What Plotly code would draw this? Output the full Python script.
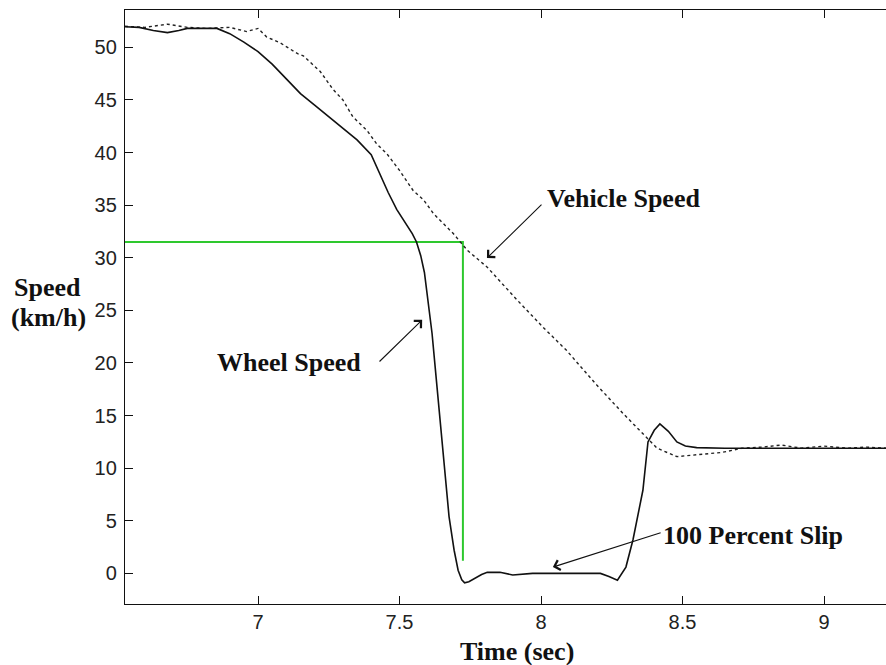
import plotly.graph_objects as go

# ---------------- data ----------------
wheel_time = [6.53, 6.58, 6.63, 6.68, 6.72, 6.75, 6.80, 6.855, 6.90, 6.95, 7.00, 7.05,
              7.10, 7.15, 7.20, 7.25, 7.30, 7.35, 7.40, 7.43, 7.46, 7.49, 7.52,
              7.545, 7.56, 7.575, 7.588, 7.60, 7.615, 7.626, 7.637, 7.654, 7.664,
              7.675, 7.693, 7.707, 7.72, 7.73, 7.745, 7.767, 7.79, 7.81, 7.855, 7.90,
              7.97, 8.05, 8.12, 8.21, 8.24, 8.27, 8.30, 8.325, 8.36, 8.378, 8.40, 8.42,
              8.45, 8.48, 8.51, 8.55, 8.65, 8.80, 9.00, 9.22]
wheel_speed = [51.96, 51.9, 51.6, 51.4, 51.6, 51.8, 51.8, 51.8, 51.3, 50.5, 49.6, 48.4,
               47.0, 45.6, 44.5, 43.4, 42.3, 41.2, 39.8, 38.0, 36.2, 34.6, 33.3,
               32.3, 31.5, 30.2, 28.6, 26.0, 22.8, 19.6, 16.5, 11.7, 8.6,
               5.4, 2.2, 0.3, -0.6, -0.9, -0.8, -0.45, -0.1, 0.1, 0.1, -0.15,
               0.0, 0.0, 0.0, 0.0, -0.3, -0.65, 0.6, 3.2, 7.9, 12.5, 13.6, 14.2,
               13.5, 12.5, 12.1, 11.95, 11.9, 11.9, 11.9, 11.9]

vehicle_time = [6.53, 6.60, 6.68, 6.75, 6.82, 6.90, 6.96, 7.00, 7.03, 7.08, 7.14, 7.16, 7.22,
                7.265, 7.30, 7.335, 7.385, 7.42, 7.455, 7.50, 7.548, 7.585, 7.62, 7.69,
                7.74, 7.81, 7.915, 8.007, 8.09, 8.197, 8.29, 8.357, 8.41, 8.48, 8.57,
                8.64, 8.71, 8.78, 8.85, 8.92, 9.00, 9.08, 9.15, 9.22]
vehicle_speed = [52.0, 51.9, 52.2, 51.9, 51.8, 51.9, 51.5, 51.8, 51.0, 50.4, 49.4, 49.2, 47.7,
                 46.0, 45.0, 43.4, 42.1, 40.8, 39.9, 38.3, 36.4, 35.5, 34.2, 32.3,
                 30.7, 29.1, 26.0, 23.4, 21.2, 17.9, 15.2, 13.4, 11.9, 11.1, 11.35,
                 11.5, 11.9, 12.0, 12.2, 11.9, 12.1, 11.9, 12.0, 11.9]

marker_time = [6.53, 7.724, 7.724]
marker_speed = [31.5, 31.5, 1.2]

x_ticks = [7, 7.5, 8, 8.5, 9]
x_tick_labels = ["7", "7.5", "8", "8.5", "9"]
y_ticks = [0, 5, 10, 15, 20, 25, 30, 35, 40, 45, 50]
y_tick_labels = [str(v) for v in y_ticks]

# ---------------- figure ----------------
fig = go.Figure()
fig.add_trace(go.Scatter(x=marker_time, y=marker_speed, mode="lines",
                         line=dict(color="#2ec82e", width=2), hoverinfo="skip"))
fig.add_trace(go.Scatter(x=vehicle_time, y=vehicle_speed, mode="lines",
                         line=dict(color="#222222", width=1.4, dash="3px,3px")))
fig.add_trace(go.Scatter(x=wheel_time, y=wheel_speed, mode="lines",
                         line=dict(color="#111111", width=1.6)))

serif = dict(family="Liberation Serif", size=26, color="#111111", weight="bold")

def label(text, x, y, anchor="left"):
    fig.add_annotation(x=x, y=y, xref="x", yref="y", text=text, showarrow=False,
                       xanchor=anchor, yanchor="middle", font=serif)

def arrow(hx, hy, tx, ty):
    fig.add_annotation(x=hx, y=hy, ax=tx, ay=ty, xref="x", yref="y", axref="x", ayref="y",
                       text="", showarrow=True, arrowhead=4, arrowsize=1.8,
                       arrowwidth=1.1, arrowcolor="#111111")

label("Vehicle Speed", 8.015, 35.6)
arrow(7.809, 29.97, 8.007, 35.2)
label("Wheel Speed", 6.848, 20.0)
arrow(7.58, 24.1, 7.424, 20.0)
label("100 Percent Slip", 8.425, 3.6)
arrow(8.042, 0.6, 8.428, 3.9)

fig.add_annotation(x=-0.148, y=0.532, xref="paper", yref="paper", text="Speed",
                   showarrow=False, xanchor="left", yanchor="middle", font=serif)
fig.add_annotation(x=-0.153, y=0.483, xref="paper", yref="paper", text="(km/h)",
                   showarrow=False, xanchor="left", yanchor="middle", font=serif)
fig.add_annotation(x=0.515, y=-0.08, xref="paper", yref="paper", text="Time (sec)",
                   showarrow=False, xanchor="center", yanchor="middle", font=serif)

tickfont = dict(family="Liberation Sans", size=20, color="#222222")
fig.update_layout(
    width=886, height=665,
    margin=dict(l=125, r=0, t=10, b=61),
    paper_bgcolor="white", plot_bgcolor="white",
    showlegend=False,
    xaxis=dict(range=[6.530, 9.219], tickvals=x_ticks, ticktext=x_tick_labels,
               ticks="inside", ticklen=8, tickwidth=1.3, tickcolor="#111111",
               showline=True, linecolor="#111111", linewidth=1.3, mirror="ticks",
               showgrid=False, zeroline=False, tickfont=tickfont),
    yaxis=dict(range=[-2.91, 53.55], tickvals=y_ticks, ticktext=y_tick_labels,
               ticks="inside", ticklen=8, tickwidth=1.3, tickcolor="#111111",
               showline=True, linecolor="#111111", linewidth=1.3, mirror=False,
               showgrid=False, zeroline=False, tickfont=tickfont,
               ticklabelstandoff=3),
)

fig.write_html("out.html")
